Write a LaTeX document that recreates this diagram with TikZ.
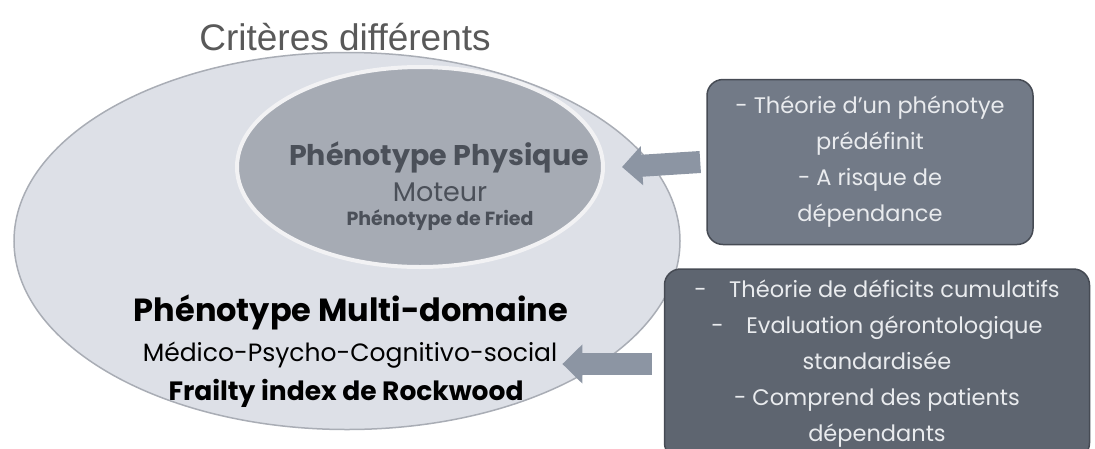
\documentclass[tikz,border=0pt]{standalone}
\usepackage{fontspec}
\setmainfont{Poppins}
\newfontfamily\titlefont{Liberation Sans}
\usetikzlibrary{arrows.meta,shapes.geometric,positioning,calc}
\definecolor{outerfill}{HTML}{DDE0E7}
\definecolor{outerdraw}{HTML}{A9ADB5}
\definecolor{innerfill}{HTML}{A6ABB4}
\definecolor{innertext}{HTML}{4B5059}
\definecolor{boxonefill}{HTML}{727A87}
\definecolor{boxtwofill}{HTML}{5E6570}
\definecolor{boxdraw}{HTML}{464B54}
\definecolor{boxtext}{HTML}{E9EBEE}
\definecolor{arrowfill}{HTML}{8C95A3}
\begin{document}
\begin{tikzpicture}[
    x=1pt, y=-1pt,
    every node/.style={align=center, inner sep=0pt},
    zone/.style={ellipse, line width=1.5pt},
    bigbold/.style={font=\fontsize{32}{32}\selectfont\bfseries},
    midtext/.style={font=\fontsize{25}{25}\selectfont},
    infobox/.style={rounded corners=16pt, draw=boxdraw, line width=1.5pt, text=boxtext, font=\fontsize{22.5}{36}\selectfont},
    blockarrow/.style={draw=arrowfill, line width=22pt, -{Triangle[length=20pt, width=38pt]}}
]
\useasboundingbox (0,0) rectangle (1095,448);
\node[text=black!65, font=\titlefont\fontsize{37}{37}\selectfont] (title) at (345,37) {Critères différents};
\node[zone, fill=outerfill, draw=outerdraw, minimum width=666pt, minimum height=377pt] (outer) at (347,241) {};
\node[zone, fill=innerfill, draw=white!85!innerfill, line width=4pt, minimum width=366pt, minimum height=200pt] (inner) at (420,167) {};
\node[text=innertext, font=\fontsize{28.5}{28.5}\selectfont\bfseries] (physique) at (439,157) {Phénotype Physique};
\node[text=innertext, font=\fontsize{27}{27}\selectfont] (moteur) at (440,192) {Moteur};
\node[text=innertext, font=\fontsize{19}{19}\selectfont\bfseries] (fried) at (440,220) {Phénotype de Fried};
\node[bigbold] (multi) at (351,312) {Phénotype Multi-domaine};
\node[midtext] (medico) at (350,355) {Médico-Psycho-Cognitivo-social};
\node[font=\fontsize{26.5}{26.5}\selectfont\bfseries] (frailty) at (346,393) {Frailty index de Rockwood};
\node[infobox, fill=boxonefill, minimum width=326pt, minimum height=165pt] (box1) at (870,162) {- Théorie d'un phénotye\\ prédéfinit\\ - A risque de\\ dépendance};
\node[infobox, fill=boxtwofill, minimum width=425pt, minimum height=190pt] (box2) at (877,364) {-\quad Théorie de déficits cumulatifs\\ -\quad Evaluation gérontologique\\ standardisée\\ - Comprend des patients\\ dépendants};
\draw[blockarrow] ([xshift=-6pt]box1.west) -- ([xshift=17pt]inner.east);
\draw[blockarrow] ([xshift=-12pt]box2.west) -- ($(box2.west -| medico.east)+(5,0)$);
\end{tikzpicture}
\end{document}
